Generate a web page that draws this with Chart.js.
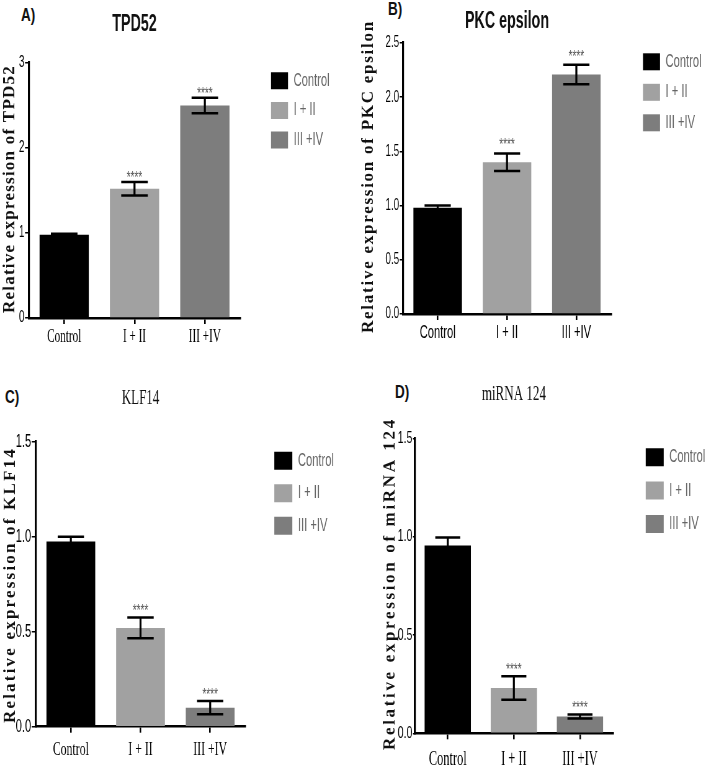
<!DOCTYPE html>
<html>
<head>
<meta charset="utf-8">
<script src="https://cdn.jsdelivr.net/npm/chart.js@4.4.1/dist/chart.umd.min.js"></script>
<style>
  html, body { margin: 0; padding: 0; background: #fff; }
  body { width: 706px; height: 769px; position: relative; overflow: hidden; }
  canvas { position: absolute; }
  .tag { position: absolute; font: bold 18px "Liberation Sans", Arial, sans-serif; line-height: 18px;
         transform: scaleX(0.75); transform-origin: 0 0; color: #111; }
</style>
</head>
<body>
<div class="tag" style="left:21px;top:6px">A)</div>
<div class="tag" style="left:388px;top:0px">B)</div>
<div class="tag" style="left:5px;top:388px">C)</div>
<div class="tag" style="left:395px;top:383px">D)</div>
<canvas id="cA"></canvas>
<canvas id="cB"></canvas>
<canvas id="cC"></canvas>
<canvas id="cD"></canvas>
<script>
// groups and colours
const groups    = ["Control", "I + II", "III +IV"];
const barColors = ["#000000", "#a1a1a1", "#7d7d7d"];
const stars     = ["", "****", "****"];

// mean relative expression and error
const tpd52     = [0.98, 1.52, 2.50];
const tpd52Err  = [0.01, 0.08, 0.09];
const pkce      = [0.98, 1.40, 2.21];
const pkceErr   = [0.02, 0.08, 0.09];
const klf14     = [0.975, 0.52, 0.10];
const klf14Err  = [0.025, 0.055, 0.035];
const mir124    = [0.955, 0.23, 0.085];
const mir124Err = [0.04, 0.06, 0.01];

// y tick values
const yTicksA = [0, 1, 2, 3];
const yTicksB = [0, 0.5, 1.0, 1.5, 2.0, 2.5];
const yTicksC = [0, 0.5, 1.0, 1.5];
const yTicksD = [0, 0.5, 1.0, 1.5];

const SANS  = '"Liberation Sans", Arial, sans-serif';
const SERIF = '"Liberation Serif", "Times New Roman", serif';
const SQ = 0.62;   // canvases are squeezed sideways, the original type is very condensed

// error bars + significance marks
const errBars = {
  id: "errBars",
  afterDatasetsDraw(chart, args, opts) {
    const ctx = chart.ctx;
    const y = chart.scales.y;
    const vals = chart.data.datasets[0].data;
    const bars = chart.getDatasetMeta(0).data;
    ctx.save();
    ctx.strokeStyle = "#000";
    bars.forEach((bar, i) => {
      const top = y.getPixelForValue(vals[i] + opts.err[i]);
      const bot = y.getPixelForValue(vals[i] - opts.err[i]);
      const half = bar.width * 0.27;
      ctx.lineWidth = 2 * opts.k;
      ctx.beginPath();
      ctx.moveTo(bar.x, top);
      ctx.lineTo(bar.x, bot);
      ctx.stroke();
      ctx.lineWidth = 2.5;
      ctx.beginPath();
      ctx.moveTo(bar.x - half, top); ctx.lineTo(bar.x + half, top);
      ctx.moveTo(bar.x - half, bot); ctx.lineTo(bar.x + half, bot);
      ctx.stroke();
      if (opts.sig[i]) {
        ctx.fillStyle = "#555";
        ctx.font = "16px " + SANS;
        ctx.textAlign = "center";
        ctx.textBaseline = "middle";
        ctx.fillText(opts.sig[i], bar.x, top - opts.gap);
      }
    });
    ctx.restore();
  }
};

// rotated, letter-spaced y axis title (not squeezed)
const yTitle = {
  id: "yTitle",
  afterDraw(chart, args, opts) {
    const ctx = chart.ctx;
    ctx.save();
    ctx.font = "bold 17px " + SERIF;
    const plain = ctx.measureText(opts.text).width;
    ctx.letterSpacing = ((opts.len - plain) / opts.text.length).toFixed(2) + "px";
    ctx.translate(opts.x * opts.k, opts.y);
    ctx.scale(opts.k, 1);
    ctx.rotate(-Math.PI / 2);
    ctx.fillStyle = "#111";
    ctx.textAlign = "center";
    ctx.textBaseline = "middle";
    ctx.fillText(opts.text, 0, 0);
    ctx.restore();
  }
};

// fixed legend width so the plot area lands where it should
const legendWidth = {
  id: "legendWidth",
  afterInit(chart, args, opts) {
    const lg = chart.legend;
    const fit = lg.fit;
    const w = opts.width;
    lg.fit = function () { fit.call(this); this.width = w; };
  }
};

function makeChart(p) {
  const cv = document.getElementById(p.id);
  const W = Math.round(p.w / SQ);
  const k = W / p.w;
  cv.width = W;
  cv.height = p.h;
  cv.style.left = p.x + "px";
  cv.style.top = p.y + "px";
  cv.style.width = p.w + "px";
  cv.style.height = p.h + "px";

  const [L, T, R, B] = p.area;
  const lgFont = 18;
  const itemH = Math.max(lgFont, p.box);
  const lgPad = p.legendStep - itemH;
  const lgLeft = p.boxLeft * k - lgPad;
  const spacerW = lgLeft - R * k;
  const lgW = W - lgLeft;
  const lgTitleH = p.boxTop - lgPad - Math.max((lgFont - p.box) / 2, 0);
  const tLine = p.titleFont * 1.2;
  const tTop = p.titleY - tLine / 2;

  new Chart(cv, {
    type: "bar",
    data: {
      labels: groups,
      datasets: [{
        data: p.values,
        backgroundColor: barColors,
        borderWidth: 0,
        categoryPercentage: 1,
        barPercentage: 0.7,
        yAxisID: "y"
      }]
    },
    options: {
      responsive: false,
      animation: false,
      devicePixelRatio: 1,
      layout: { padding: 0 },
      scales: {
        x: {
          offset: true,
          grid: { display: true, drawOnChartArea: false, drawTicks: true, tickLength: 6, offset: false,
                  color: "#000", lineWidth: 1.6 * k },
          border: { display: true, color: "#000", width: 2.5 },
          ticks: { font: { family: p.catFam, size: p.catFont }, color: "#000", padding: p.catPad,
                   maxRotation: 0, autoSkip: false },
          afterFit: s => { s.height = p.h - B; }
        },
        y: {
          min: p.ticks[0],
          max: p.ticks[p.ticks.length - 1],
          afterBuildTicks: s => { s.ticks = p.ticks.map(v => ({ value: v })); },
          grid: { display: true, drawOnChartArea: false, drawTicks: true, tickLength: p.tickLen * k,
                  color: "#000", lineWidth: 1.5 },
          border: { display: true, color: "#000", width: 2 * k },
          ticks: { font: { family: SANS, size: p.tickFont }, color: "#000", padding: 0.5 * k,
                   callback: v => Number(v).toFixed(p.dec) },
          afterFit: s => { s.width = L * k; }
        },
        sp: {
          type: "linear",
          position: "right",
          display: true,
          grid: { display: false },
          border: { display: false },
          ticks: { display: false },
          afterFit: s => { s.width = spacerW; }
        }
      },
      plugins: {
        tooltip: { enabled: false },
        title: {
          display: true,
          text: p.title,
          fullSize: false,
          color: "#111",
          font: { family: p.titleFam, size: p.titleFont, weight: p.titleBold ? "bold" : "normal", lineHeight: 1.2 },
          padding: { top: tTop, bottom: T - tTop - tLine }
        },
        legend: {
          position: "right",
          align: "start",
          fullSize: true,
          title: { display: true, text: " ", font: { size: 10, lineHeight: 1 },
                   padding: { top: lgTitleH - 10, bottom: 0 } },
          labels: {
            boxWidth: p.box * k,
            boxHeight: p.box,
            padding: lgPad,
            color: "#222",
            font: { family: SANS, size: lgFont },
            generateLabels: () => groups.map((g, i) => ({
              text: g, fillStyle: barColors[i], strokeStyle: barColors[i],
              lineWidth: 0, hidden: false, index: i, datasetIndex: 0
            }))
          }
        },
        errBars: { err: p.err, sig: stars, gap: p.gap, k: k },
        yTitle: { text: p.yText, x: p.yX, y: p.yY, len: p.yLen, k: k },
        legendWidth: { width: lgW }
      }
    },
    plugins: [errBars, yTitle, legendWidth]
  });
}

makeChart({ id: "cA", x: 0, y: 0, w: 353, h: 352, area: [29, 63, 240, 318],
  values: tpd52, err: tpd52Err, ticks: yTicksA, dec: 0, tickFont: 16, tickLen: 4,
  title: "TPD52", titleFam: SANS, titleBold: true, titleFont: 23, titleY: 25,
  catFam: SERIF, catFont: 18, catPad: 2,
  box: 17, boxLeft: 271, boxTop: 72.3, legendStep: 29.6,
  yText: "Relative expression of TPD52", yX: 10, yY: 189, yLen: 248, gap: 3.5 });

makeChart({ id: "cB", x: 353, y: 0, w: 353, h: 345, area: [50, 43, 258, 314],
  values: pkce, err: pkceErr, ticks: yTicksB, dec: 1, tickFont: 16, tickLen: 3.3,
  title: "PKC epsilon", titleFam: SANS, titleBold: true, titleFont: 23, titleY: 21.7,
  catFam: SANS, catFont: 18, catPad: 2,
  box: 17, boxLeft: 290, boxTop: 53.3, legendStep: 30.5,
  yText: "Relative expression of PKC epsilon", yX: 15.5, yY: 176.5, yLen: 313, gap: 7.5 });

makeChart({ id: "cC", x: 0, y: 380, w: 353, h: 389, area: [36, 61.7, 245, 346.7],
  values: klf14, err: klf14Err, ticks: yTicksC, dec: 1, tickFont: 18, tickLen: 4.3,
  title: "KLF14", titleFam: SERIF, titleBold: false, titleFont: 21, titleY: 18.3,
  catFam: SERIF, catFont: 19, catPad: 6,
  box: 18, boxLeft: 274.3, boxTop: 71.7, legendStep: 32.5,
  yText: "Relative expression of KLF14", yX: 10.5, yY: 205, yLen: 276, gap: 5.5 });

makeChart({ id: "cD", x: 353, y: 380, w: 353, h: 389, area: [61.7, 58.3, 260, 353.3],
  values: mir124, err: mir124Err, ticks: yTicksD, dec: 1, tickFont: 17, tickLen: 1.8,
  title: "miRNA 124", titleFam: SERIF, titleBold: false, titleFont: 21, titleY: 14.2,
  catFam: SERIF, catFont: 20, catPad: 8.5,
  box: 18, boxLeft: 292.7, boxTop: 68.3, legendStep: 33.3,
  yText: "Relative expression of miRNA 124", yX: 37, yY: 203.5, yLen: 333, gap: 6 });
</script>
</body>
</html>
